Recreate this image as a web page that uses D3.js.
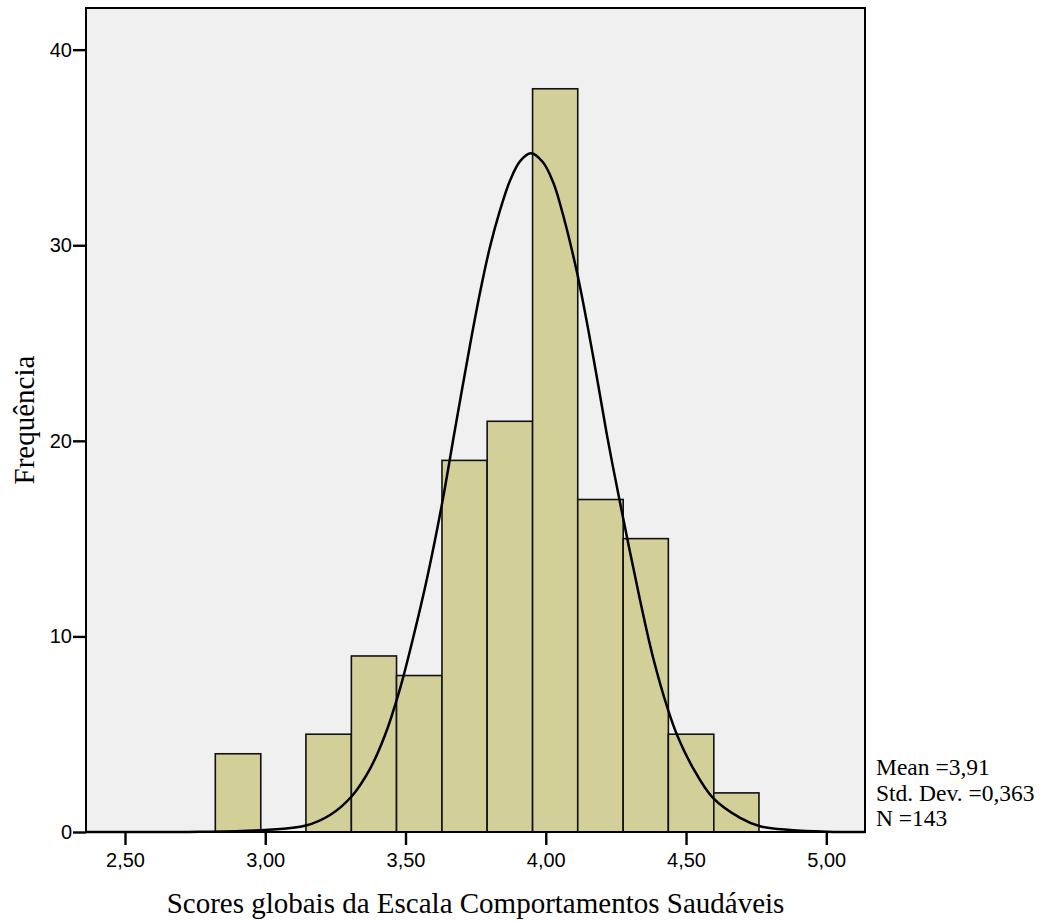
<!doctype html>
<html lang="pt">
<head>
  <meta charset="UTF-8">
  <title>Histograma</title>
  <script src="https://cdn.jsdelivr.net/npm/d3@7"></script>
  <style>
    body { margin: 0; background: #fff; }
  </style>
</head>
<body>
<svg width="1045" height="921" id="hist"></svg>
<script>
  // bin edges and counts
  var binEdges = [2.822, 2.984, 3.145, 3.307, 3.468, 3.630, 3.791, 3.953, 4.114, 4.276, 4.437, 4.599, 4.760];
  var counts = [4, 0, 5, 9, 8, 19, 21, 38, 17, 15, 5, 2];

  // normal curve (score, frequency)
  var curveX = [2.361, 2.767, 2.999, 3.145, 3.231, 3.306, 3.373, 3.427, 3.480, 3.527, 3.577, 3.630, 3.676,
    3.730, 3.766, 3.801, 3.837, 3.873, 3.908, 3.947, 3.990, 4.026, 4.051, 4.111, 4.168, 4.218, 4.265,
    4.336, 4.382, 4.436, 4.468, 4.525, 4.596, 4.693, 4.764, 4.871, 5.003, 5.138];
  var curveY = [0, 0.01, 0.10, 0.33, 0.87, 1.79, 3.22, 4.96, 7.31, 9.92, 12.99, 16.77, 20.55,
    24.90, 27.61, 29.91, 31.79, 33.32, 34.29, 34.70, 34.24, 33.23, 32.11, 28.63, 24.39, 20.30, 16.82,
    11.86, 8.95, 6.24, 4.96, 3.27, 1.74, 0.72, 0.29, 0.10, 0.015, 0];

  var xTicks = [2.5, 3.0, 3.5, 4.0, 4.5, 5.0];
  var yTicks = [0, 10, 20, 30, 40];
  var statLines = ['Mean =3,91', 'Std. Dev. =0,363', 'N =143'];

  (function () {
    var svg = d3.select('#hist'),
      pLeft = 86, pRight = 865, pTop = 8, pBottom = 832;

    var x = d3.scaleLinear().domain([2.361, 5.138]).range([pLeft, pRight]),
      y = d3.scaleLinear().domain([0, 42.13]).range([pBottom, pTop]);

    var fmt = function (d) { return d3.format('.2f')(d).replace('.', ','); };

    // plot background
    svg.append('rect')
      .attr('x', pLeft).attr('y', pTop)
      .attr('width', pRight - pLeft).attr('height', pBottom - pTop)
      .attr('fill', '#f0f0f0');

    var bins = counts.map(function (c, i) {
      return {x0: binEdges[i], x1: binEdges[i + 1], count: c};
    }).filter(function (d) { return d.count > 0; });

    svg.selectAll('.bar').data(bins).enter().append('rect').attr('class', 'bar')
      .attr('x', function (d) { return x(d.x0); })
      .attr('y', function (d) { return y(d.count); })
      .attr('width', function (d) { return x(d.x1) - x(d.x0); })
      .attr('height', function (d) { return y(0) - y(d.count); })
      .attr('fill', '#d3cf98')
      .attr('stroke', '#111')
      .attr('stroke-width', 1.6);

    var pts = curveX.map(function (v, i) { return [v, curveY[i]]; });
    var line = d3.line()
      .x(function (d) { return x(d[0]); })
      .y(function (d) { return y(d[1]); })
      .curve(d3.curveCatmullRom.alpha(0.5));

    svg.append('path')
      .datum(pts)
      .attr('d', line)
      .attr('fill', 'none')
      .attr('stroke', '#000')
      .attr('stroke-width', 2.5);

    // frame
    svg.append('rect')
      .attr('x', pLeft).attr('y', pTop)
      .attr('width', pRight - pLeft).attr('height', pBottom - pTop)
      .attr('fill', 'none')
      .attr('stroke', '#000')
      .attr('stroke-width', 2);

    // axes
    var xAxis = svg.append('g')
      .attr('transform', 'translate(0,' + pBottom + ')')
      .call(d3.axisBottom(x).tickValues(xTicks).tickFormat(fmt).tickSize(13).tickSizeOuter(0));
    var yAxis = svg.append('g')
      .attr('transform', 'translate(' + pLeft + ',0)')
      .call(d3.axisLeft(y).tickValues(yTicks).tickSize(13).tickSizeOuter(0));

    [xAxis, yAxis].forEach(function (g) {
      g.select('.domain').remove();
      g.selectAll('line').attr('stroke', '#000').attr('stroke-width', 2.4);
      g.selectAll('text')
        .attr('fill', '#000')
        .attr('font-family', '"Liberation Sans", Arial, sans-serif')
        .attr('font-size', 20);
    });
    xAxis.selectAll('text').attr('y', 21);
    yAxis.selectAll('text').attr('x', -14);

    svg.append('text')
      .attr('x', (pLeft + pRight) / 2)
      .attr('y', 913)
      .attr('text-anchor', 'middle')
      .attr('font-family', '"Liberation Serif", "Times New Roman", serif')
      .attr('font-size', 29)
      .text('Scores globais da Escala Comportamentos Saudáveis');

    svg.append('text')
      .attr('transform', 'translate(34,' + (pTop + pBottom) / 2 + ') rotate(-90)')
      .attr('text-anchor', 'middle')
      .attr('font-family', '"Liberation Serif", "Times New Roman", serif')
      .attr('font-size', 29)
      .text('Frequência');

    svg.selectAll('.stat').data(statLines).enter().append('text').attr('class', 'stat')
      .attr('x', 876)
      .attr('y', function (d, i) { return 775 + i * 25.5; })
      .attr('font-family', '"Liberation Serif", "Times New Roman", serif')
      .attr('font-size', 23.5)
      .text(function (d) { return d; });
  })();
</script>
</body>
</html>
